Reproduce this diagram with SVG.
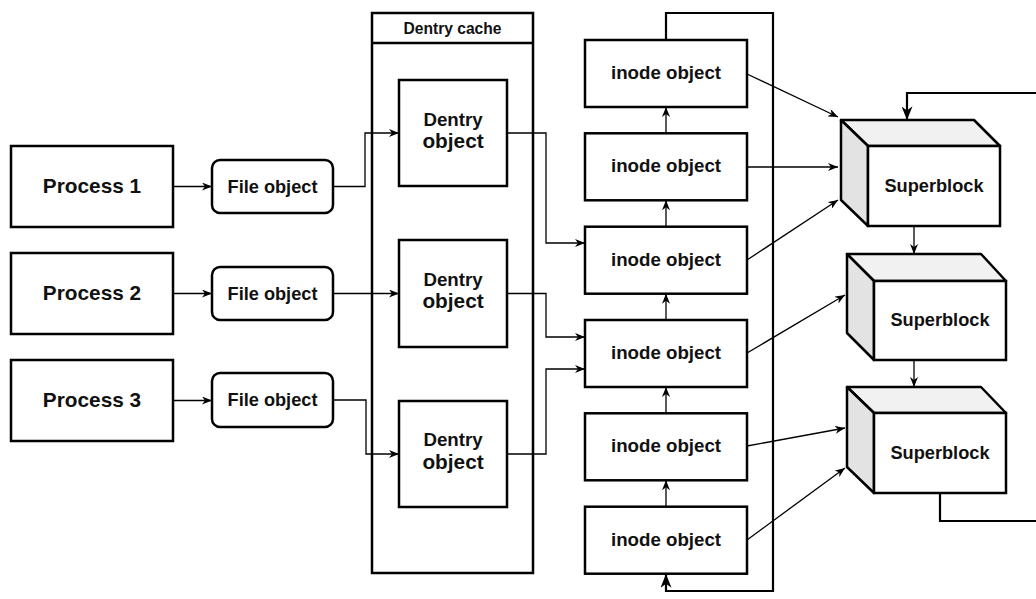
<svg xmlns="http://www.w3.org/2000/svg" width="1036" height="599" viewBox="0 0 1036 599">
  <defs>
    <marker id="arr" viewBox="0 0 10 8" refX="10" refY="4" markerWidth="10" markerHeight="8" markerUnits="userSpaceOnUse" orient="auto">
      <path d="M0,0 L10,4 L0,8 L3,4 z" fill="#000"/>
    </marker>
    <marker id="arrBig" viewBox="0 0 10 8" refX="10" refY="4" markerWidth="14" markerHeight="11" markerUnits="userSpaceOnUse" orient="auto">
      <path d="M0,0 L10,4 L0,8 L3,4 z" fill="#000"/>
    </marker>
  </defs>
  <style>
    .box { fill: #fff; stroke: #000; stroke-width: 2.5; }
    .lbl { font-family: "Liberation Sans", Arial, sans-serif; font-weight: bold; fill: #111; text-anchor: middle; }
    .f21 { font-size: 20.8px; }
    .f18 { font-size: 18.2px; }
    .f19 { font-size: 18.7px; }
    .f16 { font-size: 15.6px; }
    .edge { fill: none; stroke: #000; stroke-width: 1.3; marker-end: url(#arr); }
    .thick { fill: none; stroke: #000; stroke-width: 2.2; }
    .top { fill: #f1f1f1; stroke: #000; stroke-width: 2.5; stroke-linejoin: round; }
    .side { fill: #e3e3e3; stroke: #000; stroke-width: 2.5; stroke-linejoin: round; }
  </style>
  <rect width="1036" height="599" fill="#fff"/>

  <!-- dentry cache container, drawn first so the connectors cross its border -->
  <g id="dentry-cache">
    <rect class="box" x="372" y="13" width="161" height="560"/>
    <line x1="372" y1="43" x2="533" y2="43" stroke="#000" stroke-width="2.5"/>
    <text class="lbl f16" x="452.5" y="34">Dentry cache</text>
  </g>

  <!-- connectors -->
  <g id="connectors">
    <!-- processes to file objects -->
    <path class="edge" d="M173,186.5 H212"/>
    <path class="edge" d="M173,293.5 H212"/>
    <path class="edge" d="M173,400.5 H212"/>
    <!-- file objects to dentry objects -->
    <path class="edge" d="M333,186.5 H365 V133 H399"/>
    <path class="edge" d="M333,293.5 H399"/>
    <path class="edge" d="M333,400 H366 V454 H399"/>
    <!-- dentry objects to inode objects -->
    <path class="edge" d="M507,133 H546 V243 H585"/>
    <path class="edge" d="M507,293.5 H546 V337 H585"/>
    <path class="edge" d="M507,454 H546 V369 H585"/>
    <!-- inode chain -->
    <path class="edge" d="M666,133.3 V107"/>
    <path class="edge" d="M666,226.7 V200.3"/>
    <path class="edge" d="M666,320 V293.7"/>
    <path class="edge" d="M666,413.3 V387"/>
    <path class="edge" d="M666,506.7 V480.3"/>
    <!-- loop from the first inode back to the last -->
    <path class="thick" d="M666,40 V13 H773 V591 H666 V574" marker-end="url(#arrBig)"/>
    <!-- inode objects to superblocks -->
    <path class="edge" d="M747,74 L838,117"/>
    <path class="edge" d="M747,167 H838"/>
    <path class="edge" d="M747,260 L838,200"/>
    <path class="edge" d="M747,353 L845,295"/>
    <path class="edge" d="M747,446 L845,428"/>
    <path class="edge" d="M747,540 L845,468"/>
    <!-- superblock list -->
    <path class="edge" d="M914,226 V254"/>
    <path class="edge" d="M914,360 V387"/>
    <path class="thick" d="M1036,93 H907 V120" marker-end="url(#arrBig)"/>
    <path class="thick" d="M940,493 V521 H1036"/>
  </g>

  <!-- processes -->
  <g id="process1">
    <rect class="box" x="11" y="146" width="162" height="81"/>
    <text class="lbl f21" x="92" y="192.5">Process 1</text>
  </g>
  <g id="process2">
    <rect class="box" x="11" y="253" width="162" height="81"/>
    <text class="lbl f21" x="92" y="299.5">Process 2</text>
  </g>
  <g id="process3">
    <rect class="box" x="11" y="360" width="162" height="81"/>
    <text class="lbl f21" x="92" y="406.5">Process 3</text>
  </g>

  <!-- file objects -->
  <g id="file1">
    <rect class="box" x="212" y="160" width="121" height="53" rx="8"/>
    <text class="lbl f18" x="272.5" y="192.5">File object</text>
  </g>
  <g id="file2">
    <rect class="box" x="212" y="267" width="121" height="53" rx="8"/>
    <text class="lbl f18" x="272.5" y="299.5">File object</text>
  </g>
  <g id="file3">
    <rect class="box" x="212" y="373" width="121" height="54" rx="8"/>
    <text class="lbl f18" x="272.5" y="406">File object</text>
  </g>

  <!-- dentry objects -->
  <g id="dentry1">
    <rect class="box" x="399" y="80" width="108" height="106"/>
    <text class="lbl f19" x="453" y="126">Dentry</text>
    <text class="lbl f21" x="453" y="148">object</text>
  </g>
  <g id="dentry2">
    <rect class="box" x="399" y="240" width="108" height="107"/>
    <text class="lbl f19" x="453" y="286">Dentry</text>
    <text class="lbl f21" x="453" y="308">object</text>
  </g>
  <g id="dentry3">
    <rect class="box" x="399" y="401" width="108" height="106"/>
    <text class="lbl f19" x="453" y="446">Dentry</text>
    <text class="lbl f21" x="453" y="468.5">object</text>
  </g>

  <!-- inode objects -->
  <g id="inode1">
    <rect class="box" x="585" y="40" width="162" height="67"/>
    <text class="lbl f19" x="666" y="79">inode object</text>
  </g>
  <g id="inode2">
    <rect class="box" x="585" y="133.3" width="162" height="67"/>
    <text class="lbl f19" x="666" y="172.3">inode object</text>
  </g>
  <g id="inode3">
    <rect class="box" x="585" y="226.7" width="162" height="67"/>
    <text class="lbl f19" x="666" y="265.7">inode object</text>
  </g>
  <g id="inode4">
    <rect class="box" x="585" y="320" width="162" height="67"/>
    <text class="lbl f19" x="666" y="359">inode object</text>
  </g>
  <g id="inode5">
    <rect class="box" x="585" y="413.3" width="162" height="67"/>
    <text class="lbl f19" x="666" y="452.3">inode object</text>
  </g>
  <g id="inode6">
    <rect class="box" x="585" y="506.7" width="162" height="67"/>
    <text class="lbl f19" x="666" y="545.7">inode object</text>
  </g>

  <!-- superblocks (cubes) -->
  <g id="superblock1">
    <polygon class="top" points="841,120 974,120 1000,146 868,146"/>
    <polygon class="side" points="841,120 868,146 868,226 841,200"/>
    <rect class="box" x="868" y="146" width="132" height="80"/>
    <text class="lbl f18" x="934" y="192">Superblock</text>
  </g>
  <g id="superblock2">
    <polygon class="top" points="847,254 981,254 1006,281 874,281"/>
    <polygon class="side" points="847,254 874,281 874,360 847,333"/>
    <rect class="box" x="874" y="281" width="132" height="79"/>
    <text class="lbl f18" x="940" y="326">Superblock</text>
  </g>
  <g id="superblock3">
    <polygon class="top" points="847,387 981,387 1006,413 874,413"/>
    <polygon class="side" points="847,387 874,413 874,493 847,467"/>
    <rect class="box" x="874" y="413" width="132" height="80"/>
    <text class="lbl f18" x="940" y="459">Superblock</text>
  </g>
</svg>
